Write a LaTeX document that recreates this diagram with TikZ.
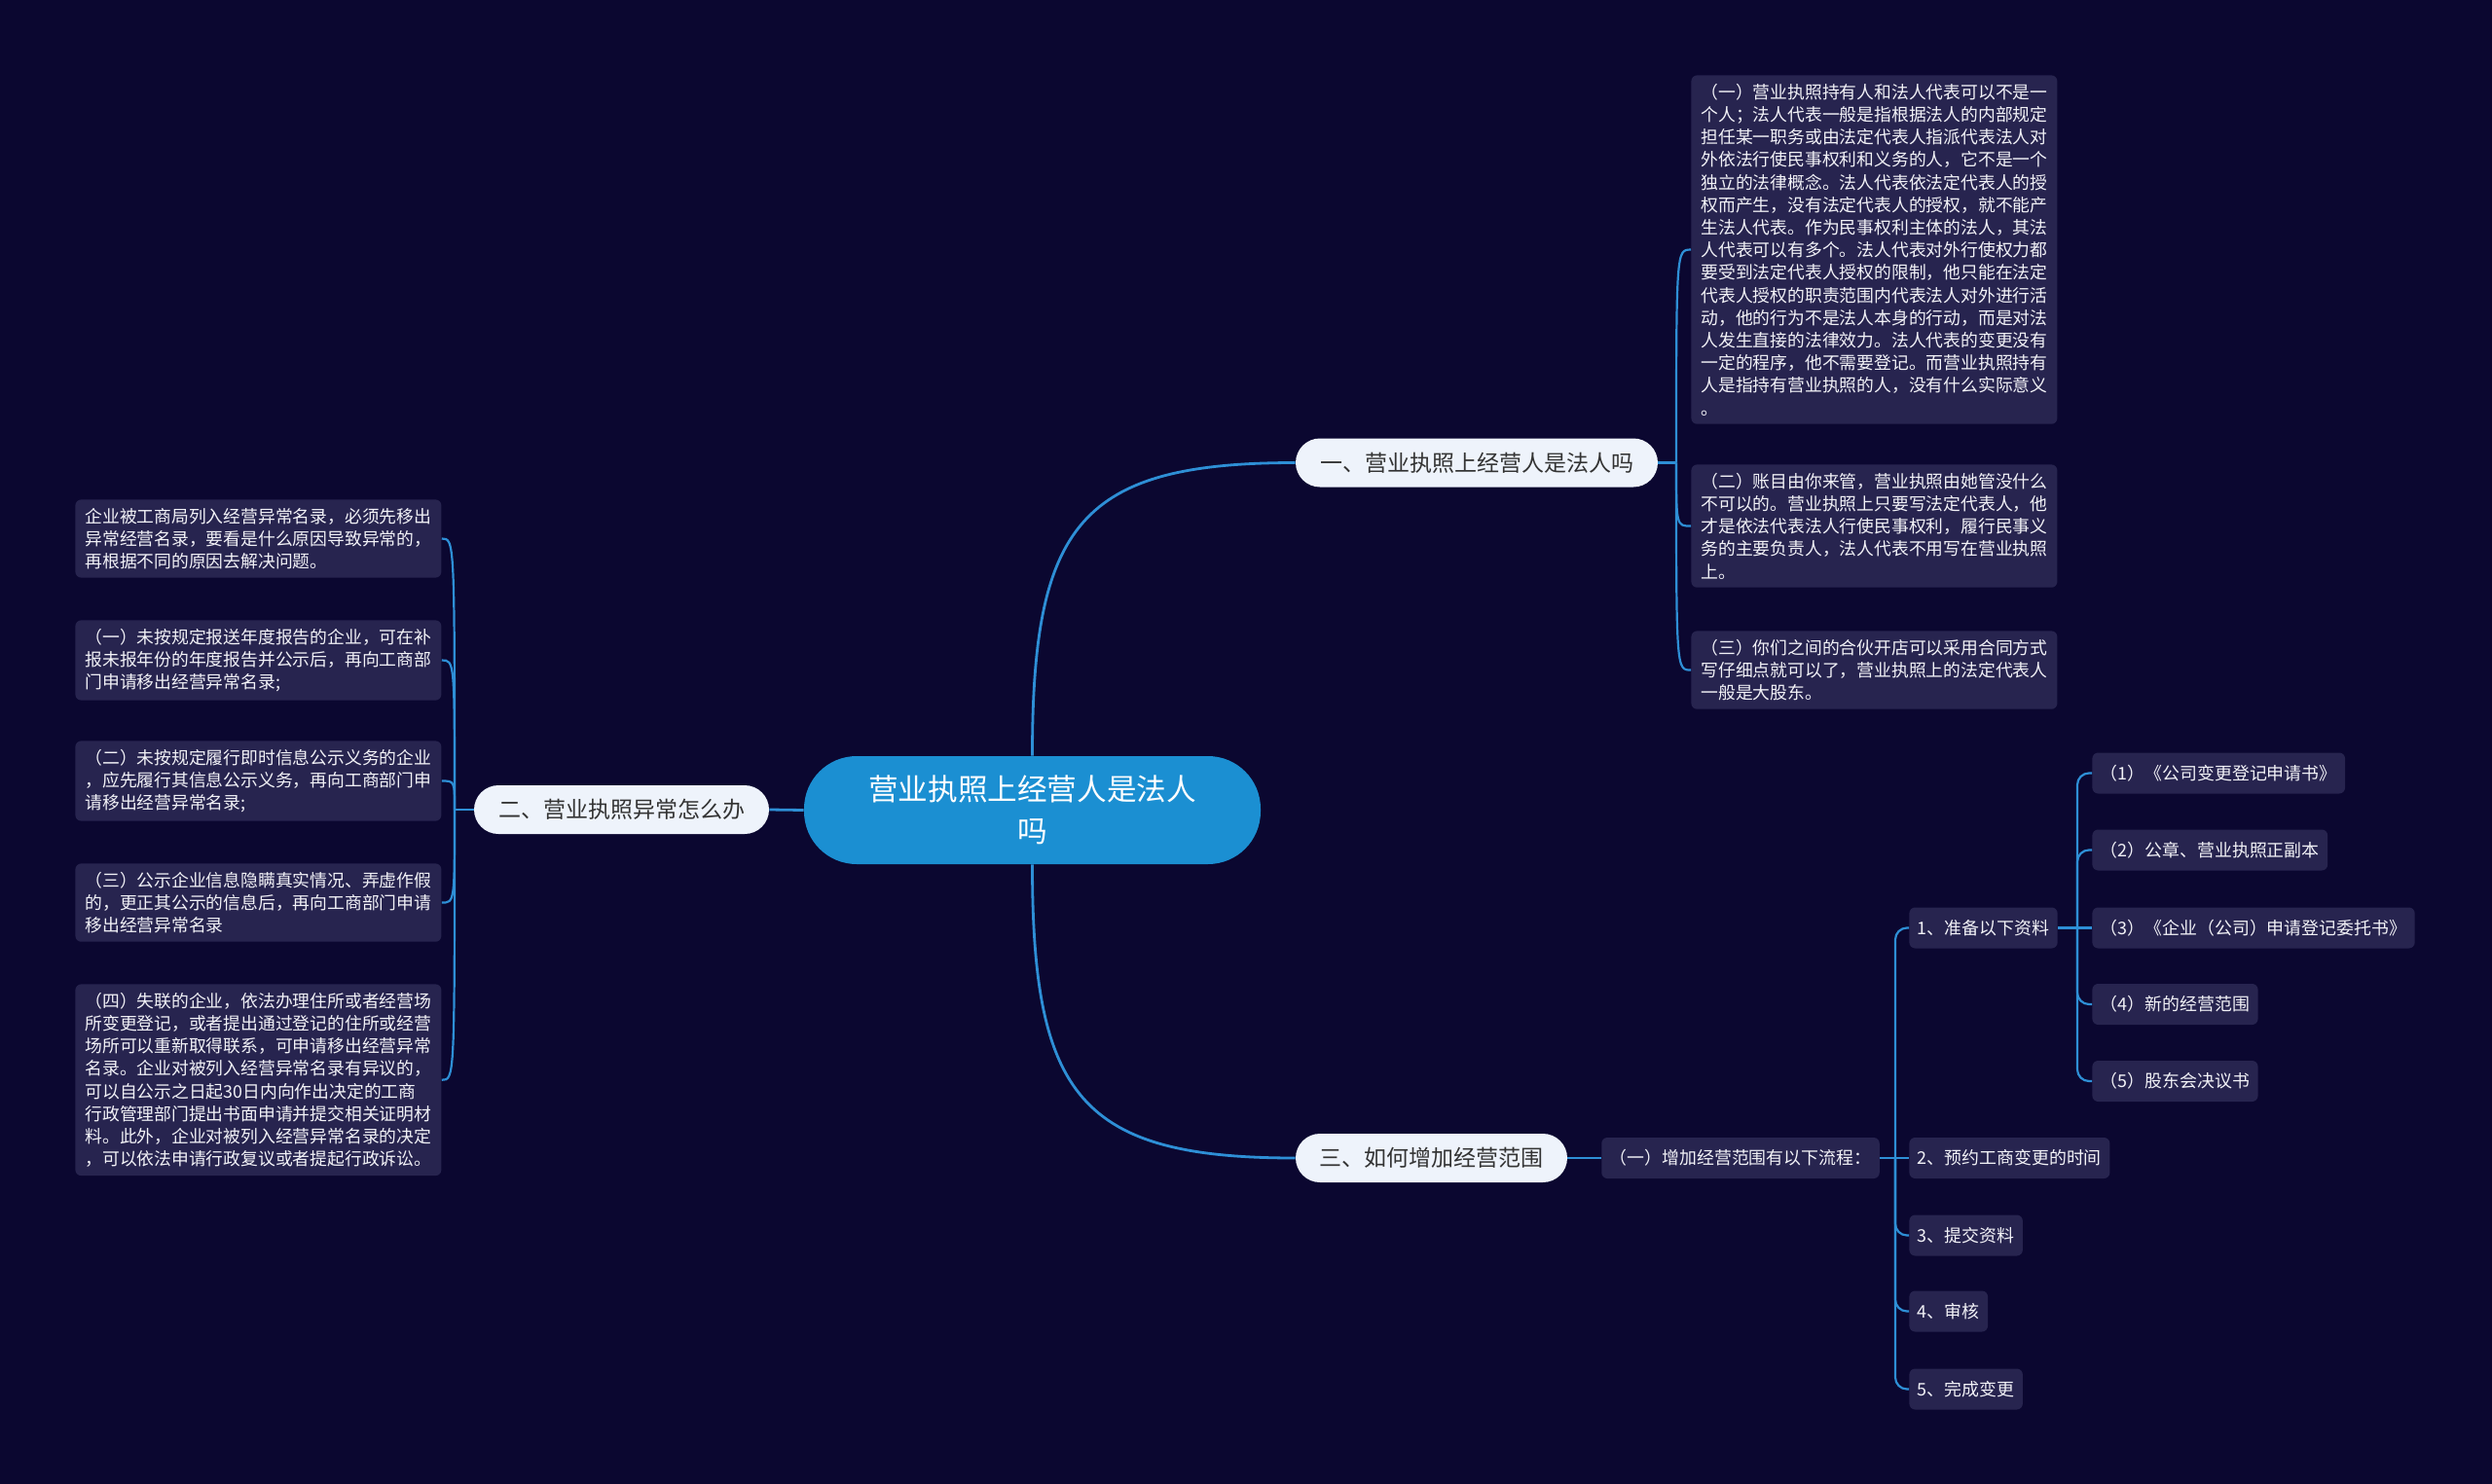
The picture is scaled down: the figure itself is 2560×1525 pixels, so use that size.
\documentclass[tikz,border=0pt]{standalone}
\usepackage{fontspec}
\setmainfont{Noto Sans CJK SC}
\definecolor{bg}{HTML}{0B0730}
\definecolor{cfill}{HTML}{1B8FD2}
\definecolor{bfill}{HTML}{EEF3FB}
\definecolor{btext}{HTML}{333333}
\definecolor{tfill}{HTML}{27244F}
\definecolor{ttext}{HTML}{F2F2F7}
\definecolor{lin}{HTML}{2E8FD6}
\begin{document}
\begin{tikzpicture}[x=0.5pt,y=-0.5pt,
  rootnode/.style={fill=cfill,text=white,rounded corners=27pt,minimum width=234.5pt,minimum height=55.5pt,align=center,font=\fontsize{15.3pt}{21.5pt}\selectfont,inner sep=0pt},
  branchnode/.style={fill=bfill,text=btext,rounded corners=12.5pt,minimum height=25pt,inner sep=0pt,font=\fontsize{11.5pt}{14pt}\selectfont},
  leafnode/.style={fill=tfill,text=ttext,rounded corners=3pt,minimum height=21pt,inner xsep=4.25pt,inner ysep=0pt,font=\fontsize{8.95pt}{11pt}\selectfont},
  textbox/.style={fill=tfill,text=ttext,rounded corners=3pt,align=left,inner xsep=5pt,inner ysep=4.3pt,minimum width=187.5pt,font=\fontsize{8.9pt}{11.6pt}\selectfont,anchor=north west},
  mainline/.style={draw=lin,line width=1.4pt},
  subline/.style={draw=lin,line width=1.1pt},
  sqline/.style={draw=lin,line width=1.1pt,rounded corners=6pt}]
\fill[bg] (0,0) rectangle (2560,1525);
\useasboundingbox (0,0) rectangle (2560,1525);

% root and branches
\node[rootnode] (c) at (1060.5,832.5) {营业执照上经营人是法人\\吗};
\node[branchnode,minimum width=186pt] (b1) at (1517,475.5) {一、营业执照上经营人是法人吗};
\node[branchnode,minimum width=151.5pt] (b2) at (638.5,832) {二、营业执照异常怎么办};
\node[branchnode,minimum width=139.5pt] (b3) at (1470.5,1190) {三、如何增加经营范围};

% branch 3 children
\node[leafnode,minimum width=142pt] (s) at (1788,1190) {（一）增加经营范围有以下流程：};
\node[leafnode,anchor=west] (i1) at (1961,953.5) {1、准备以下资料};
\node[leafnode,anchor=west] (i2) at (1961,1190) {2、预约工商变更的时间};
\node[leafnode,anchor=west] (i3) at (1961,1269.5) {3、提交资料};
\node[leafnode,anchor=west] (i4) at (1961,1347.5) {4、审核};
\node[leafnode,anchor=west] (i5) at (1961,1427.5) {5、完成变更};
\node[leafnode,anchor=west] (p1) at (2149,794.5) {（1）《公司变更登记申请书》};
\node[leafnode,anchor=west] (p2) at (2149,873.5) {（2）公章、营业执照正副本};
\node[leafnode,anchor=west] (p3) at (2149,953.5) {（3）《企业（公司）申请登记委托书》};
\node[leafnode,anchor=west] (p4) at (2149,1032) {（4）新的经营范围};
\node[leafnode,anchor=west] (p5) at (2149,1111) {（5）股东会决议书};

% branch 1 text boxes
\node[textbox] (r1) at (1737,77) {（一）营业执照持有人和法人代表可以不是一\\个人；法人代表一般是指根据法人的内部规定\\担任某一职务或由法定代表人指派代表法人对\\外依法行使民事权利和义务的人，它不是一个\\独立的法律概念。法人代表依法定代表人的授\\权而产生，没有法定代表人的授权，就不能产\\生法人代表。作为民事权利主体的法人，其法\\人代表可以有多个。法人代表对外行使权力都\\要受到法定代表人授权的限制，他只能在法定\\代表人授权的职责范围内代表法人对外进行活\\动，他的行为不是法人本身的行动，而是对法\\人发生直接的法律效力。法人代表的变更没有\\一定的程序，他不需要登记。而营业执照持有\\人是指持有营业执照的人，没有什么实际意义\\。};
\node[textbox] (r2) at (1737,477) {（二）账目由你来管，营业执照由她管没什么\\不可以的。营业执照上只要写法定代表人，他\\才是依法代表法人行使民事权利，履行民事义\\务的主要负责人，法人代表不用写在营业执照\\上。};
\node[textbox] (r3) at (1737,648) {（三）你们之间的合伙开店可以采用合同方式\\写仔细点就可以了，营业执照上的法定代表人\\一般是大股东。};

% branch 2 text boxes
\node[textbox] (l1) at (77,513) {企业被工商局列入经营异常名录，必须先移出\\异常经营名录，要看是什么原因导致异常的，\\再根据不同的原因去解决问题。};
\node[textbox] (l2) at (77,637) {（一）未按规定报送年度报告的企业，可在补\\报未报年份的年度报告并公示后，再向工商部\\门申请移出经营异常名录;};
\node[textbox] (l3) at (77,761) {（二）未按规定履行即时信息公示义务的企业\\，应先履行其信息公示义务，再向工商部门申\\请移出经营异常名录;};
\node[textbox] (l4) at (77,887) {（三）公示企业信息隐瞒真实情况、弄虚作假\\的，更正其公示的信息后，再向工商部门申请\\移出经营异常名录};
\node[textbox] (l5) at (77,1011) {（四）失联的企业，依法办理住所或者经营场\\所变更登记，或者提出通过登记的住所或经营\\场所可以重新取得联系，可申请移出经营异常\\名录。企业对被列入经营异常名录有异议的，\\可以自公示之日起30日内向作出决定的工商\\行政管理部门提出书面申请并提交相关证明材\\料。此外，企业对被列入经营异常名录的决定\\，可以依法申请行政复议或者提起行政诉讼。};

% junctions
\coordinate (j1) at (1722,475.5);
\coordinate (j2) at (467,832);
\coordinate (j3) at (1947,1190);
\coordinate (j4) at (2134,953.5);

% connectors
\draw[mainline] (c.north) .. controls +(0,-238) and +(-221,0) .. (b1.west);
\draw[mainline] (c.south) .. controls +(0,238) and +(-221,0) .. (b3.west);
\draw[mainline] (c.west) -- (b2.east);
\draw[subline] (b1.east) -- (j1);
\foreach \n in {r1,r2,r3} \draw[subline] (j1) .. controls (j1 |- \n.west) .. (\n.west);
\draw[subline] (b2.west) -- (j2);
\foreach \n in {l1,l2,l3,l4,l5} \draw[subline] (j2) .. controls (j2 |- \n.east) .. (\n.east);
\draw[subline] (b3.east) -- (s.west);
\draw[subline] (s.east) -- (j3);
\foreach \n in {i1,i3,i4,i5} \draw[sqline] (j3) |- (\n.west);
\draw[subline] (j3) -- (i2.west);
\draw[subline] (i1.east) -- (j4);
\foreach \n in {p1,p2,p4,p5} \draw[sqline] (j4) |- (\n.west);
\draw[subline] (j4) -- (p3.west);
\end{tikzpicture}
\end{document}
